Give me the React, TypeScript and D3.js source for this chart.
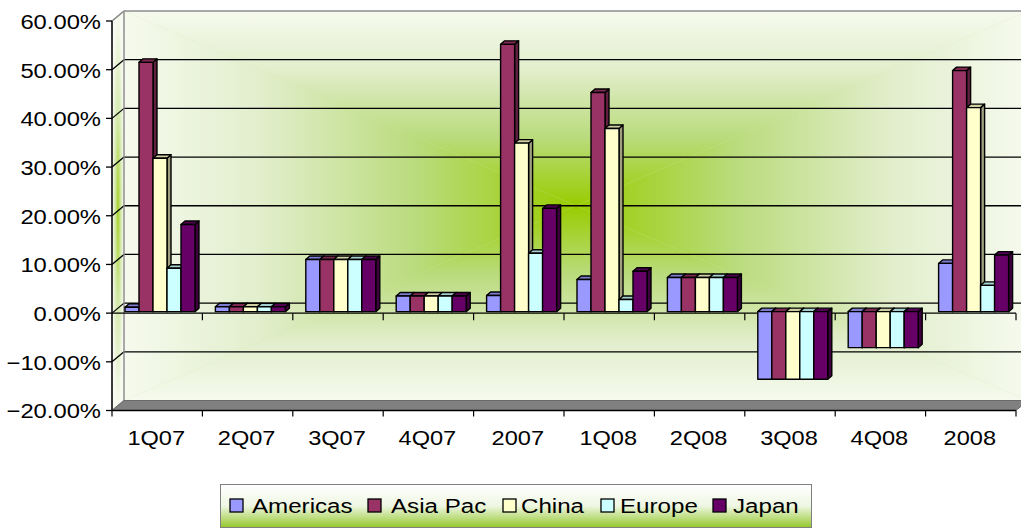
import React from "react";
import * as d3 from "d3";

const categories = ["1Q07", "2Q07", "3Q07", "4Q07", "2007", "1Q08", "2Q08", "3Q08", "4Q08", "2008"];
const seriesNames = ["Americas", "Asia Pac", "China", "Europe", "Japan"];
const seriesColors = ["#9999ff", "#993366", "#ffffcc", "#ccffff", "#660066"];
const americas = [0.9, 1.0, 10.7, 3.2, 3.3, 6.6, 7.0, -13.9, -7.4, 9.9];
const asiaPac = [51.2, 1.0, 10.7, 3.2, 54.9, 45.0, 7.0, -13.9, -7.4, 49.5];
const china = [31.5, 1.0, 10.7, 3.2, 34.6, 37.6, 7.0, -13.9, -7.4, 41.9];
const europe = [8.9, 1.0, 10.7, 3.2, 12.0, 2.5, 7.0, -13.9, -7.4, 5.4];
const japan = [17.9, 1.0, 10.7, 3.2, 21.2, 8.3, 7.0, -13.9, -7.4, 11.6];
const yTicks = [-20, -10, 0, 10, 20, 30, 40, 50, 60];

const seriesValues = [americas, asiaPac, china, europe, japan];

const W = 1021;
const H = 529;
const X0 = 112;
const X1 = 1016;
const DX = 12; // wall depth
const DY = -10;
const BDX = 4; // bar depth
const BDY = -3.5;
const BOFFY = -1.5;

const x = d3.scaleBand<string>().domain(categories).range([X0, X1]).paddingInner(0).paddingOuter(0);
const xs = d3.scaleBand<string>().domain(seriesNames).range([13, 83]).padding(0);
const y = d3.scaleLinear().domain([-20, 60]).range([410.5, 21]);

const pts = (a: number[][]) => a.map((p) => p.join(",")).join(" ");

function Label({ x: lx, y: ly, text, anchor, size, sx = 1.18 }: { x: number; y: number; text: string; anchor: string; size: number; sx?: number }) {
  return (
    <text
      transform={`translate(${lx},${ly}) scale(${sx},1)`}
      textAnchor={anchor as any}
      dominantBaseline="central"
      fontFamily="'Liberation Sans', Arial, sans-serif"
      fontSize={size}
      fill="#000"
    >
      {text}
    </text>
  );
}

const gradStops = [
  { o: 0, c: "#f6faee" },
  { o: 0.3, c: "#e2eecc" },
  { o: 0.65, c: "#badb7c" },
  { o: 1, c: "#99cc00" },
];

export default function App() {
  const wallTop = y(60) + DY;
  const wallBot = y(-20) + DY;
  const wallL = X0 + DX;
  const wallR = X1 + DX + 20;
  const cx = (wallL + X1 + DX) / 2;
  const cy = (wallTop + wallBot) / 2;
  const edge = "#f6faee";

  const bars: JSX.Element[] = [];
  categories.forEach((c, ci) => {
    seriesNames.forEach((s, si) => {
      const v = seriesValues[si][ci];
      const col = seriesColors[si];
      const top = d3.color(col)!.darker(0.6).formatHex();
      const side = d3.color(col)!.darker(1.3).formatHex();
      const bx = (x(c) as number) + (xs(s) as number);
      const bw = xs.bandwidth();
      const y0 = y(0) + BOFFY;
      const yv = y(v) + BOFFY;
      const yt = Math.min(y0, yv);
      const yb = Math.max(y0, yv);
      bars.push(
        <g key={c + s} stroke="#000" strokeWidth={1.4} strokeLinejoin="round">
          <polygon
            points={pts([
              [bx + bw, yt],
              [bx + bw + BDX, yt + BDY],
              [bx + bw + BDX, yb + BDY],
              [bx + bw, yb],
            ])}
            fill={side}
          />
          <polygon
            points={pts([
              [bx, yt],
              [bx + BDX, yt + BDY],
              [bx + bw + BDX, yt + BDY],
              [bx + bw, yt],
            ])}
            fill={top}
          />
          <rect x={bx} y={yt} width={bw} height={yb - yt} fill={col} />
        </g>
      );
    });
  });

  const legendItems = [
    { sx: 230, tx: 252 },
    { sx: 368, tx: 391 },
    { sx: 503, tx: 521 },
    { sx: 601, tx: 620 },
    { sx: 713, tx: 733 },
  ];

  const stops = gradStops.map((s) => <stop key={s.o} offset={s.o} stopColor={s.c} />);

  return (
    <svg width={W} height={H} style={{ position: "absolute", left: 0, top: 0, background: "#fff" }}>
      <defs>
        <linearGradient id="gT" gradientUnits="userSpaceOnUse" x1={0} y1={wallTop} x2={0} y2={cy}>{stops}</linearGradient>
        <linearGradient id="gB" gradientUnits="userSpaceOnUse" x1={0} y1={wallBot} x2={0} y2={cy}>{stops}</linearGradient>
        <linearGradient id="gL" gradientUnits="userSpaceOnUse" x1={wallL} y1={0} x2={cx} y2={0}>{stops}</linearGradient>
        <linearGradient id="gR" gradientUnits="userSpaceOnUse" x1={X1 + DX} y1={0} x2={cx} y2={0}>{stops}</linearGradient>
        <radialGradient id="gSide" cx="0.5" cy="0.5" r="0.5">
          <stop offset="0" stopColor="#a6d22a" />
          <stop offset="0.5" stopColor="#d6eab0" />
          <stop offset="1" stopColor="#f7faf0" />
        </radialGradient>
        <linearGradient id="gLeg" x1="0" y1="0" x2="0" y2="1">
          <stop offset="0" stopColor="#ffffff" />
          <stop offset="0.5" stopColor="#eef6e2" />
          <stop offset="1" stopColor="#94c82c" />
        </linearGradient>
      </defs>

      {/* back wall */}
      <rect x={wallL} y={wallTop} width={wallR - wallL} height={wallBot - wallTop} fill="#d6e9b4" />
      <polygon points={pts([[wallL, wallTop], [X1 + DX, wallTop], [cx, cy]])} fill="url(#gT)" />
      <polygon points={pts([[wallL, wallBot], [X1 + DX, wallBot], [cx, cy]])} fill="url(#gB)" />
      <polygon points={pts([[wallL, wallTop], [wallL, wallBot], [cx, cy]])} fill="url(#gL)" />
      <polygon points={pts([[X1 + DX, wallTop], [X1 + DX, wallBot], [cx, cy]])} fill="url(#gR)" />
      <rect x={X1 + DX} y={wallTop} width={20} height={wallBot - wallTop} fill={edge} />

      {/* left wall */}
      <polygon
        points={pts([[X0, y(60)], [wallL, wallTop], [wallL, wallBot], [X0, y(-20)]])}
        fill="url(#gSide)"
        stroke="#9a9a9a"
        strokeWidth={1.2}
      />

      {/* gridlines */}
      {yTicks.filter((t) => t > -20).map((t) => {
        const col = t === 60 ? "#8c8c8c" : "#000";
        return (
          <g key={"g" + t} stroke={col} strokeWidth={1.3}>
            <line x1={wallL} x2={wallR} y1={y(t) + DY} y2={y(t) + DY} />
            <line x1={X0} x2={wallL} y1={y(t)} y2={y(t) + DY} />
          </g>
        );
      })}
      <line x1={wallL} x2={wallL} y1={wallTop} y2={wallBot} stroke="#9a9a9a" strokeWidth={1.2} />

      {/* floor */}
      <polygon
        points={pts([[X0, y(-20)], [wallL, wallBot], [X1 + DX, wallBot], [X1, y(-20)]])}
        fill="#808080"
        stroke="#6a6a6a"
        strokeWidth={1}
      />

      {/* value axis */}
      <line x1={X0} x2={X0} y1={y(60)} y2={y(-20)} stroke="#000" strokeWidth={1.4} />
      {yTicks.map((t) => (
        <g key={"t" + t}>
          <line x1={X0 - 6} x2={X0} y1={y(t)} y2={y(t)} stroke="#000" strokeWidth={1.3} />
          <Label x={101} y={y(t) + 1} text={d3.format(".2f")(t) + "%"} anchor="end" size={20.5} sx={1.16} />
        </g>
      ))}

      {/* category axis at zero */}
      <line x1={X0} x2={X1} y1={y(0)} y2={y(0)} stroke="#000" strokeWidth={1.3} />
      {categories.map((c) => (
        <line key={"z" + c} x1={(x(c) as number) + x.bandwidth()} x2={(x(c) as number) + x.bandwidth()} y1={y(0)} y2={y(0) + 7} stroke="#000" strokeWidth={1.2} />
      ))}
      {/* bottom axis */}
      <line x1={X0} x2={X1} y1={y(-20)} y2={y(-20)} stroke="#000" strokeWidth={1.4} />
      {[X0, ...categories.map((c) => (x(c) as number) + x.bandwidth())].map((tx, i) => (
        <line key={"b" + i} x1={tx} x2={tx} y1={y(-20)} y2={y(-20) + 6} stroke="#000" strokeWidth={1.2} />
      ))}
      {categories.map((c) => (
        <Label key={"l" + c} x={(x(c) as number) + x.bandwidth() / 2 - 1} y={438} text={c} anchor="middle" size={20.5} sx={1.15} />
      ))}

      {bars}

      {/* legend */}
      <rect x={220.5} y={484.5} width={591} height={43} fill="url(#gLeg)" stroke="#808080" strokeWidth={1} />
      {seriesNames.map((s, i) => (
        <g key={"lg" + s}>
          <rect x={legendItems[i].sx} y={499} width={13} height={13} fill={seriesColors[i]} stroke="#000" strokeWidth={1.3} />
          <Label x={legendItems[i].tx} y={506} text={s} anchor="start" size={21} sx={1.15} />
        </g>
      ))}
    </svg>
  );
}
